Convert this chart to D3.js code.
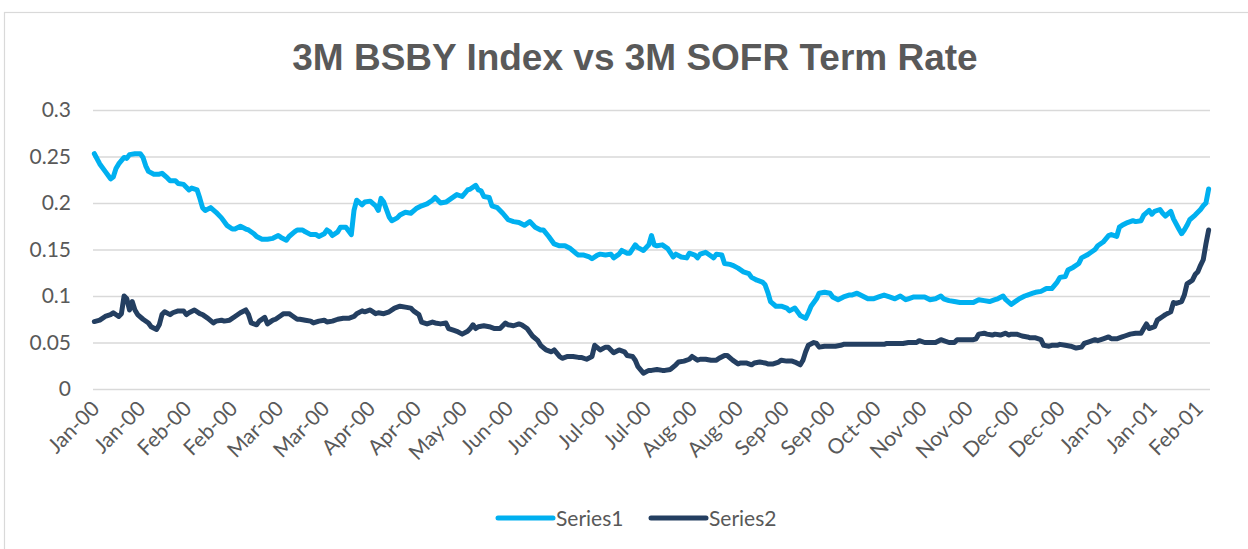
<!DOCTYPE html>
<html><head><meta charset="utf-8">
<script src="https://cdn.jsdelivr.net/npm/d3@7"></script>
<style>body{margin:0;background:#fff;}svg{display:block;}</style>
</head><body>
<svg id="c" width="1248" height="549"></svg>
<script>
const title = "3M BSBY Index vs 3M SOFR Term Rate";
const seriesNames = ["Series1", "Series2"];
const nCategories = 413;
const tickLabels = ["Jan-00","Jan-00","Feb-00","Feb-00","Mar-00","Mar-00","Apr-00","Apr-00","May-00","Jun-00","Jun-00","Jul-00","Jul-00","Aug-00","Aug-00","Sep-00","Sep-00","Oct-00","Nov-00","Nov-00","Dec-00","Dec-00","Jan-01","Jan-01","Feb-01"];
const tickEvery = 17;
const yTicks = [0, 0.05, 0.1, 0.15, 0.2, 0.25, 0.3];

const s1Days = [0,2,4,6,7,8,9,11,12,13,15,17,18,19,20,22,24,25,27,28,30,31,33,34,35,36,38,39,40,41,43,45,47,49,51,52,54,56,57,59,60,62,64,66,68,69,71,72,74,75,77,78,80,82,83,85,86,87,88,90,91,93,95,96,97,99,100,102,
104,105,106,107,109,110,112,113,115,117,119,121,123,125,126,128,130,132,134,136,138,139,141,142,143,144,146,147,149,151,153,155,157,159,161,163,165,166,168,170,172,174,176,178,179,181,183,184,186,187,189,191,192,194,195,197,198,200,201,203,205,206,
207,208,210,212,214,215,217,219,220,222,223,224,226,228,229,230,232,233,235,236,238,240,242,243,245,247,248,249,250,252,254,256,257,259,260,261,263,264,265,267,268,270,272,273,275,277,279,280,282,284,286,288,290,292,294,296,298,300,301,303,305,307,309,
311,313,314,316,318,320,322,324,325,327,329,331,333,334,336,337,339,341,342,344,345,347,348,350,352,353,354,356,357,359,360,362,364,365,367,368,370,371,373,375,376,378,379,380,382,384,385,387,388,390,391,392,394,395,396,398,399,401,402,403,404,405,407,409,410,411,412];
const s1Vals = [0.253,0.242,0.234,0.226,0.228,0.237,0.242,0.249,0.248,0.252,0.253,0.253,0.249,0.240,0.234,0.231,0.231,0.232,0.227,0.224,0.224,0.221,0.220,0.217,0.214,0.216,0.214,0.205,0.195,0.192,0.195,0.190,0.184,0.176,0.172,0.172,0.175,0.172,0.171,0.167,0.164,0.161,0.161,0.162,0.165,0.163,0.160,0.164,0.169,0.171,0.171,0.169,0.166,0.166,0.164,0.167,0.171,0.169,0.165,0.169,0.174,0.174,0.166,0.192,0.203,0.198,0.201,0.202,
0.197,0.192,0.205,0.201,0.185,0.181,0.184,0.187,0.190,0.189,0.194,0.197,0.199,0.203,0.206,0.200,0.201,0.205,0.209,0.207,0.214,0.215,0.219,0.214,0.213,0.207,0.206,0.197,0.195,0.189,0.182,0.180,0.179,0.176,0.180,0.174,0.171,0.171,0.164,0.156,0.154,0.154,0.151,0.146,0.144,0.144,0.142,0.140,0.144,0.145,0.144,0.145,0.141,0.145,0.149,0.146,0.146,0.155,0.152,0.149,0.155,0.165,
0.155,0.154,0.155,0.151,0.142,0.145,0.142,0.141,0.146,0.144,0.141,0.145,0.147,0.143,0.141,0.145,0.144,0.135,0.134,0.133,0.130,0.126,0.124,0.120,0.117,0.115,0.112,0.104,0.094,0.089,0.089,0.087,0.084,0.087,0.083,0.079,0.076,0.082,0.089,0.097,0.103,0.104,0.103,0.099,0.096,0.099,0.101,0.101,0.103,0.100,0.097,0.097,0.099,0.101,0.099,0.097,0.100,0.096,0.097,0.099,0.099,0.099,0.096,
0.097,0.100,0.097,0.095,0.094,0.093,0.093,0.093,0.093,0.096,0.095,0.094,0.096,0.097,0.100,0.096,0.091,0.095,0.097,0.100,0.101,0.103,0.104,0.105,0.108,0.108,0.108,0.115,0.120,0.121,0.128,0.131,0.135,0.141,0.144,0.146,0.150,0.154,0.158,0.165,0.166,0.164,0.174,0.176,0.179,0.181,0.180,0.181,0.187,0.192,0.188,0.191,0.193,0.189,0.186,0.191,0.183,0.172,0.167,0.171,0.176,0.182,0.187,0.193,0.197,0.200,0.215];

const s2Days = [0,2,4,6,7,9,10,11,12,13,14,15,16,18,20,21,23,24,25,26,28,29,31,33,34,35,37,39,40,42,44,45,47,48,50,52,54,56,57,58,60,61,63,64,66,67,69,70,72,73,75,76,78,80,81,83,85,86,88,90,92,94,96,97,99,100,102,
104,105,107,109,111,113,115,117,118,120,121,123,125,126,128,130,131,133,134,136,138,139,140,141,142,144,146,148,150,152,153,155,157,158,160,162,164,165,167,169,170,172,173,175,177,179,180,182,184,185,187,189,190,192,194,196,197,199,200,201,203,205,
206,208,210,211,213,215,216,218,220,221,223,224,226,228,230,231,233,234,236,238,239,241,243,244,246,248,249,251,253,254,256,258,259,261,262,263,264,266,267,268,270,272,274,276,277,279,281,283,285,287,288,290,292,293,295,297,299,301,303,304,305,307,309,
311,313,314,316,318,319,321,323,325,326,327,329,330,332,333,335,337,338,339,341,343,345,346,348,350,351,353,354,356,357,359,361,363,365,366,368,370,371,373,375,376,378,380,381,383,385,387,388,389,390,392,393,395,396,398,399,400,402,403,404,406,407,408,409,410,411,412];
const s2Vals = [0.0725,0.074,0.078,0.080,0.082,0.078,0.081,0.100,0.097,0.085,0.094,0.085,0.080,0.075,0.071,0.067,0.064,0.069,0.080,0.083,0.080,0.082,0.084,0.084,0.080,0.082,0.085,0.081,0.080,0.076,0.071,0.073,0.074,0.073,0.074,0.078,0.082,0.085,0.080,0.071,0.069,0.073,0.077,0.070,0.074,0.075,0.079,0.081,0.081,0.079,0.075,0.075,0.074,0.073,0.071,0.073,0.074,0.072,0.073,0.075,0.076,0.076,0.078,0.081,0.084,0.083,0.085,
0.081,0.082,0.081,0.083,0.087,0.089,0.088,0.087,0.084,0.080,0.072,0.070,0.072,0.071,0.070,0.071,0.065,0.063,0.062,0.059,0.062,0.065,0.069,0.065,0.067,0.068,0.067,0.065,0.065,0.071,0.069,0.068,0.070,0.069,0.065,0.057,0.052,0.047,0.042,0.040,0.042,0.035,0.033,0.035,0.035,0.034,0.034,0.032,0.035,0.047,0.042,0.045,0.045,0.039,0.042,0.040,0.036,0.035,0.031,0.024,0.017,0.020,
0.020,0.021,0.020,0.020,0.021,0.026,0.029,0.030,0.032,0.035,0.031,0.032,0.032,0.031,0.031,0.033,0.036,0.036,0.031,0.027,0.028,0.028,0.026,0.028,0.029,0.028,0.027,0.027,0.029,0.031,0.030,0.030,0.029,0.026,0.031,0.040,0.047,0.050,0.049,0.045,0.046,0.046,0.046,0.047,0.048,0.048,0.048,0.048,0.048,0.048,0.048,0.048,0.048,0.049,0.049,0.049,0.049,0.050,0.050,0.050,0.052,0.050,0.050,
0.050,0.053,0.052,0.050,0.050,0.053,0.053,0.053,0.053,0.054,0.059,0.060,0.059,0.058,0.059,0.058,0.060,0.058,0.059,0.059,0.057,0.056,0.055,0.055,0.053,0.047,0.046,0.047,0.047,0.048,0.047,0.046,0.044,0.045,0.049,0.051,0.053,0.052,0.054,0.056,0.054,0.054,0.056,0.057,0.059,0.060,0.060,0.065,0.070,0.065,0.067,0.074,0.078,0.080,0.083,0.093,0.092,0.094,0.101,0.113,0.117,0.123,0.126,0.133,0.139,0.156,0.171];

const colors = ["#00B0F0", "#243F61"];
const textColor = "#595959";

const svg = d3.select("#c");
svg.append("rect").attr("x",4.5).attr("y",12.5).attr("width",1260).attr("height",560)
  .attr("fill","#fff").attr("stroke","#d9d9d9").attr("stroke-width",1.2);

const x = d3.scaleLinear().domain([-0.5, nCategories - 0.5]).range([93, 1210]);
const y = d3.scaleLinear().domain([0, 0.3]).range([389, 110]);

svg.append("text").attr("x", 635).attr("y", 70).attr("text-anchor","middle")
  .attr("font-family","'Liberation Sans', Arial, sans-serif").attr("font-weight","bold")
  .attr("font-size",37).attr("fill",textColor).text(title);

// gridlines + y axis
const yAxis = d3.axisLeft(y).tickValues(yTicks).tickSize(-(1210-93)).tickPadding(22)
  .tickFormat(d => d3.format("~g")(d));
const gy = svg.append("g").attr("transform","translate(93,0)").call(yAxis);
gy.select(".domain").remove();
gy.selectAll(".tick line").attr("stroke","#d9d9d9").attr("stroke-width",1.5);
gy.selectAll(".tick text").attr("font-family","Lato, sans-serif").attr("font-size",21).attr("fill",textColor);

// x labels
const tickIdx = tickLabels.map((_, i) => i * tickEvery);
const xAxis = d3.axisBottom(x).tickValues(tickIdx).tickSize(0).tickFormat((d, i) => tickLabels[i]);
const gx = svg.append("g").attr("transform","translate(0,389)").call(xAxis);
gx.select(".domain").remove();
gx.selectAll(".tick text").attr("font-family","Lato, sans-serif").attr("font-size",21).attr("fill",textColor)
  .attr("text-anchor","end").attr("dy",null).attr("y",0)
  .attr("transform","translate(6,21) rotate(-45)");

const line = d3.line().x(d => x(d[0])).y(d => y(d[1])).curve(d3.curveLinear);
const series = [d3.zip(s1Days, s1Vals), d3.zip(s2Days, s2Vals)];
series.forEach((s, i) => {
  svg.append("path").datum(s).attr("d", line).attr("fill","none")
    .attr("stroke", colors[i]).attr("stroke-width",5).attr("stroke-linejoin","round").attr("stroke-linecap","round");
});

// legend
const legX = [498, 651];
seriesNames.forEach((n, i) => {
  const g = svg.append("g").attr("transform", `translate(${legX[i]},518)`);
  g.append("line").attr("x1",0).attr("x2",55).attr("y1",0).attr("y2",0)
    .attr("stroke",colors[i]).attr("stroke-width",5).attr("stroke-linecap","round");
  g.append("text").attr("x",58).attr("y",7.5).attr("font-family","Lato, sans-serif").attr("font-size",21)
    .attr("fill",textColor).text(n);
});
</script>
</body></html>
